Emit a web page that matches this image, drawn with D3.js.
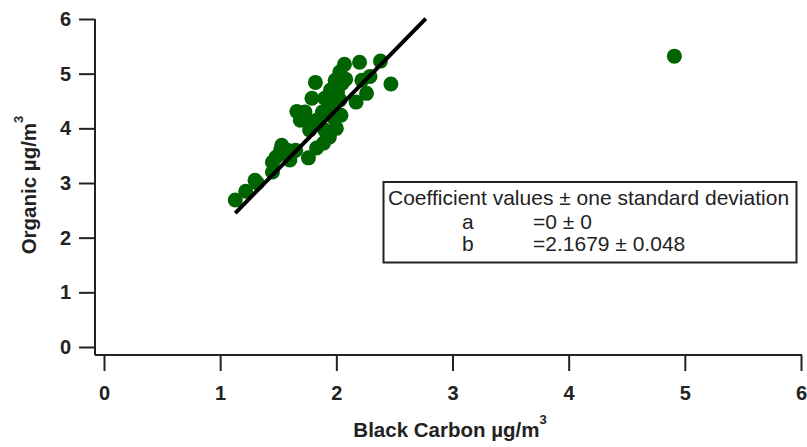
<!DOCTYPE html>
<html><head><meta charset="utf-8">
<script src="https://cdn.jsdelivr.net/npm/d3@7"></script>
<style>
body{margin:0;background:#fff;}
svg{display:block;font-family:"Liberation Sans",Arial,sans-serif;}
</style></head>
<body><svg id="c" width="807" height="447"></svg>
<script>
// Black carbon (x) vs Organic (y), µg/m3
const bcValues = [1.13,1.22,1.30,1.32,1.45,1.45,1.48,1.52,1.53,1.58,1.62,1.65,1.60,1.76,1.83,1.94,1.89,1.66,1.73,1.69,1.83,1.79,1.82,2.04,2.17,2.26,2.47,2.38,2.20,2.07,2.03,1.99,1.95,1.90,1.96,2.01,2.05,2.08,2.22,1.94,1.98,1.88,2.29,2.03,1.90,2.00,1.77,1.80,4.91];
const orgValues = [2.69,2.85,3.05,3.00,3.20,3.38,3.47,3.60,3.69,3.60,3.56,3.60,3.42,3.46,3.64,3.84,3.73,4.31,4.30,4.15,4.15,4.55,4.84,4.24,4.48,4.64,4.81,5.23,5.21,5.17,5.03,4.88,4.70,4.55,4.52,4.66,4.82,4.90,4.88,4.37,4.19,4.30,4.95,4.52,3.97,4.00,3.97,4.08,5.32];
const fitSlope = 2.1679;
const fitIntercept = 0;
const fitRange = [1.13, 2.77];
const xTicks = [0,1,2,3,4,5,6];
const yTicks = [0,1,2,3,4,5,6];
const legendTitle = "Coefficient values \u00b1 one standard deviation";
const legendRows = [["a","=0 \u00b1 0"],["b","=2.1679 \u00b1 0.048"]];

const svg = d3.select("#c");
const x = d3.scaleLinear().domain([0,6]).range([104,801]);
const y = d3.scaleLinear().domain([0,6]).range([347,19]);
const axisColor = "#222";
const xAxisY = 355, yAxisX = 95;

// axis lines
svg.append("line").attr("x1",yAxisX).attr("x2",yAxisX).attr("y1",y(6)).attr("y2",xAxisY)
  .attr("stroke",axisColor).attr("stroke-width",2);
svg.append("line").attr("x1",yAxisX).attr("x2",x(6)+1).attr("y1",xAxisY).attr("y2",xAxisY)
  .attr("stroke",axisColor).attr("stroke-width",2);

const gx = svg.append("g").attr("transform",`translate(0,${xAxisY})`)
  .call(d3.axisBottom(x).tickValues(xTicks).tickSize(16).tickPadding(15).tickFormat(d3.format("d")));
const gy = svg.append("g").attr("transform",`translate(${yAxisX},0)`)
  .call(d3.axisLeft(y).tickValues(yTicks).tickSize(16).tickPadding(8).tickFormat(d3.format("d")));
[gx,gy].forEach(g=>{
  g.select(".domain").remove();
  g.selectAll(".tick line").attr("stroke",axisColor).attr("stroke-width",2);
  g.selectAll(".tick text").attr("fill","#222").style("font-size","20px").style("font-weight","bold")
   .style("font-family","'Liberation Sans',Arial,sans-serif");
});

// titles
const xt = svg.append("text").attr("x",450).attr("y",437).attr("text-anchor","middle")
  .attr("fill","#222").style("font-size","20.5px").style("font-weight","bold");
xt.append("tspan").text("Black Carbon \u00b5g/m");
xt.append("tspan").attr("dy",-13).style("font-size","13px").text("3");
const yt = svg.append("text").attr("transform","translate(36,185) rotate(-90)").attr("text-anchor","middle")
  .attr("fill","#222").style("font-size","20.5px").style("font-weight","bold");
yt.append("tspan").text("Organic \u00b5g/m");
yt.append("tspan").attr("dy",-13).style("font-size","13px").text("3");

// points
const pts = bcValues.map((v,i)=>({x:v,y:orgValues[i]}));
svg.append("g").selectAll("circle").data(pts).join("circle")
  .attr("cx",d=>x(d.x)).attr("cy",d=>y(d.y)).attr("r",7.5).attr("fill","#006400");

// fit line
svg.append("line")
  .attr("x1",x(fitRange[0])).attr("y1",y(fitIntercept+fitSlope*fitRange[0]))
  .attr("x2",x(fitRange[1])).attr("y2",y(fitIntercept+fitSlope*fitRange[1]))
  .attr("stroke","#000").attr("stroke-width",4);

// legend box
const lg = svg.append("g");
lg.append("rect").attr("x",383.5).attr("y",182).attr("width",413).attr("height",80.5)
  .attr("fill","#fff").attr("stroke","#222").attr("stroke-width",2);
lg.append("text").attr("x",388).attr("y",205).attr("fill","#222").style("font-size","21px").text(legendTitle);
legendRows.forEach((r,i)=>{
  lg.append("text").attr("x",462).attr("y",229+i*22).attr("fill","#222").style("font-size","21px").text(r[0]);
  lg.append("text").attr("x",533).attr("y",229+i*22).attr("fill","#222").style("font-size","21px").text(r[1]);
});
</script></body></html>
